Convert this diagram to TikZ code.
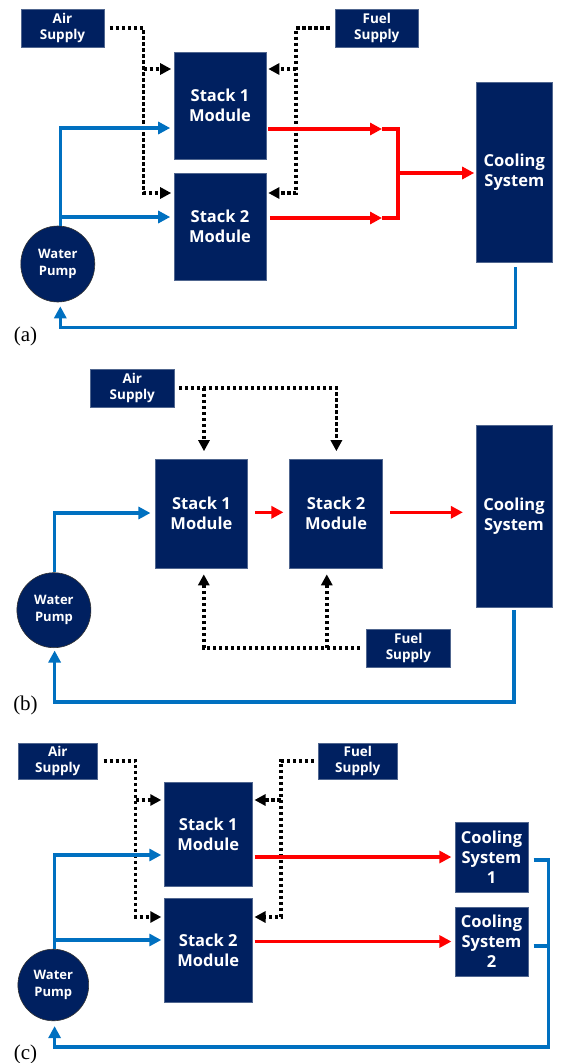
\documentclass[tikz,border=0pt]{standalone}
\usepackage{fontspec}
\setmainfont{Open Sans}
\newfontfamily\labfont{Liberation Serif}
\usetikzlibrary{arrows.meta,shapes.geometric}
\definecolor{navy}{HTML}{002060}
\definecolor{navyedge}{HTML}{50668F}
\definecolor{flowblue}{HTML}{0070C0}
\definecolor{flowred}{HTML}{FF0000}
\tikzset{
  box/.style={fill=navy, draw=navyedge, line width=0.6pt, text=white, align=center, inner sep=0pt,
    font=\bfseries\fontsize{16.5}{20}\selectfont},
  smallbox/.style={box, font=\bfseries\fontsize{13.5}{16.7}\selectfont},
  pumpnode/.style={ellipse, fill=navy, draw=black!80, line width=0.6pt, text=white, align=center, inner sep=0pt,
    font=\bfseries\fontsize{13}{17}\selectfont},
  lab/.style={font=\labfont\fontsize{21}{24}\selectfont, inner sep=0pt},
  dots/.style={black, line width=3.4pt, dash pattern=on 3.4pt off 2.6pt},
  dtip/.style={-{Triangle[length=11pt,width=11pt]}},
  bl/.style={flowblue, line width=3.6pt},
  rd/.style={flowred, line width=3.6pt},
  btip/.style={-{Triangle[length=12pt,width=12pt]}},
  rtip/.style={-{Triangle[length=12pt,width=12pt]}},
}
\begin{document}
\begin{tikzpicture}[x=1pt,y=-1pt]
\useasboundingbox (0,0) rectangle (563,1063);

% ================= (a) =================
\node[smallbox, minimum width=83pt, minimum height=38pt] (airA) at (62.5,28) {Air\\Supply};
\node[smallbox, minimum width=83pt, minimum height=38pt] (fuelA) at (376.8,28) {Fuel\\Supply};
\node[box, minimum width=92pt, minimum height=107pt] (s1A) at (220,105.5) {Stack 1\\Module};
\node[box, minimum width=92pt, minimum height=107pt] (s2A) at (220,226.5) {Stack 2\\Module};
\node[box, minimum width=76pt, minimum height=180pt] (coolA) at (514.3,172) {Cooling\\System};
\node[pumpnode, minimum width=74pt, minimum height=76pt] (pumpA) at (57.8,264) {Water\\Pump};
\node[lab] (labA) at (25.5,336.5) {(a)};

\coordinate (aA1) at (143.6,28);
\coordinate (aA2) at (143.6,193);
\coordinate (aA3) at (143.6,69);
\draw[dots, dtip, shorten <=5.5pt, shorten >=2.5pt] (airA.east) -- (aA1) -- (aA2) -- (aA2 -| s2A.west);
\draw[dots, dtip, shorten >=2.5pt] (aA3) -- (aA3 -| s1A.west);
\coordinate (fA1) at (296,28);
\coordinate (fA2) at (296,193);
\coordinate (fA3) at (296,69);
\draw[dots, dtip, shorten <=5.5pt, shorten >=2pt] (fuelA.west) -- (fA1) -- (fA2) -- (fA2 -| s2A.east);
\draw[dots, dtip, shorten >=2pt] (fA3) -- (fA3 -| s1A.east);

\coordinate (bA1) at (60.3,128);
\coordinate (bA2) at (60.3,217);
\draw[bl, btip, shorten >=3.5pt] (bA1 |- pumpA.north) -- (bA1) -- (bA1 -| s1A.west);
\draw[bl, btip, shorten >=3.5pt] (bA2) -- (bA2 -| s2A.west);

\coordinate (mA1) at (382,129);
\coordinate (mA2) at (382,218);
\coordinate (rA1) at (398,129);
\coordinate (rA2) at (398,218);
\coordinate (jA) at (398,173);
\draw[rd, rtip, shorten <=2pt] (s1A.east |- mA1) -- (mA1);
\draw[rd, rtip, shorten <=3.5pt] (s2A.east |- mA2) -- (mA2);
\draw[rd] (mA1) -- (rA1) -- (rA2) -- (mA2);
\draw[rd, rtip, shorten >=1.8pt] (jA) -- (jA -| coolA.west);

\coordinate (rtA) at (515.3,327.5);
\draw[bl, btip, shorten <=5pt, shorten >=4pt] (coolA.south -| rtA) -- (rtA) -- (rtA -| bA1) -- (bA1 |- pumpA.south);

% ================= (b) =================
\node[smallbox, minimum width=83.6pt, minimum height=38pt] (airB) at (132.3,388) {Air\\Supply};
\node[box, minimum width=92.7pt, minimum height=109pt] (s1B) at (201.4,513.5) {Stack 1\\Module};
\node[box, minimum width=92.7pt, minimum height=109pt] (s2B) at (336.1,513.5) {Stack 2\\Module};
\node[box, minimum width=76.4pt, minimum height=182pt] (coolB) at (514,516) {Cooling\\System};
\node[pumpnode, minimum width=74pt, minimum height=75pt] (pumpB) at (53.9,610.2) {Water\\Pump};
\node[smallbox, minimum width=84.4pt, minimum height=38pt] (fuelB) at (408.4,648) {Fuel\\Supply};
\node[lab] (labB) at (25.5,705.5) {(b)};

\coordinate (aB1) at (204,388);
\coordinate (aB2) at (336.4,388);
\draw[dots, dtip, shorten <=4.4pt, shorten >=7.5pt] (airB.east) -- (aB2) -- (aB2 |- s2B.north);
\draw[dots, dtip, shorten >=7.5pt] (aB1) -- (aB1 |- s1B.north);
\coordinate (fB1) at (203.8,648);
\coordinate (fB2) at (326.8,648);
\draw[dots, dtip, shorten <=6pt, shorten >=6pt] (fuelB.west) -- (fB1) -- (fB1 |- s1B.south);
\draw[dots, dtip, shorten >=6pt] (fB2) -- (fB2 |- s2B.south);

\coordinate (rB) at (0,512.3);
\draw[rd, rtip, shorten <=7pt, shorten >=6pt] (s1B.east |- rB) -- (s2B.west |- rB);
\draw[rd, rtip, shorten <=7pt, shorten >=12.6pt] (s2B.east |- rB) -- (coolB.west |- rB);

\coordinate (bB) at (54.6,513);
\draw[bl, btip, shorten >=4.3pt] (bB |- pumpB.north) -- (bB) -- (bB -| s1B.west);
\coordinate (rtB) at (514.2,702);
\draw[bl, btip, shorten <=3pt, shorten >=2.5pt] (coolB.south -| rtB) -- (rtB) -- (rtB -| bB) -- (bB |- pumpB.south);

% ================= (c) =================
\node[smallbox, minimum width=79.7pt, minimum height=36pt] (airC) at (57.8,761) {Air\\Supply};
\node[smallbox, minimum width=79.4pt, minimum height=36pt] (fuelC) at (357.8,761) {Fuel\\Supply};
\node[box, minimum width=87.6pt, minimum height=104pt] (s1C) at (208.3,834) {Stack 1\\Module};
\node[box, minimum width=87.6pt, minimum height=104pt] (s2C) at (208.3,950) {Stack 2\\Module};
\node[box, minimum width=73pt, minimum height=70pt] (cool1C) at (491.5,857) {Cooling\\System\\1};
\node[box, minimum width=73pt, minimum height=69pt] (cool2C) at (491.5,941.5) {Cooling\\System\\2};
\node[pumpnode, minimum width=70.8pt, minimum height=71.6pt] (pumpC) at (53.3,985) {Water\\Pump};
\node[lab] (labC) at (25.5,1054) {(c)};

\coordinate (aC1) at (135.7,761);
\coordinate (aC2) at (135.7,917);
\coordinate (aC3) at (135.7,800);
\draw[dots, dtip, shorten <=5.7pt, shorten >=2.9pt] (airC.east) -- (aC1) -- (aC2) -- (aC2 -| s2C.west);
\draw[dots, dtip, shorten >=2.9pt] (aC3) -- (aC3 -| s1C.west);
\coordinate (fC1) at (280.8,761);
\coordinate (fC2) at (280.8,917);
\coordinate (fC3) at (280.8,800);
\draw[dots, dtip, shorten <=3.9pt, shorten >=2.1pt] (fuelC.west) -- (fC1) -- (fC2) -- (fC2 -| s2C.east);
\draw[dots, dtip, shorten >=2.1pt] (fC3) -- (fC3 -| s1C.east);

\draw[rd, rtip, shorten <=2.1pt, shorten >=3.3pt] (s1C.east |- cool1C.west) -- (cool1C.west);
\draw[rd, rtip, shorten <=2.1pt, shorten >=3.3pt] (s2C.east |- cool2C.west) -- (cool2C.west);

\coordinate (bC1) at (54.6,855);
\coordinate (bC2) at (54.6,940);
\draw[bl, btip, shorten >=2.9pt] (bC1 |- pumpC.north) -- (bC1) -- (bC1 -| s1C.west);
\draw[bl, btip, shorten >=2.9pt] (bC2) -- (bC2 -| s2C.west);

\coordinate (cC1) at (548.3,860);
\coordinate (cC2) at (548.3,945.7);
\coordinate (cC3) at (548.3,1047);
\draw[bl, btip, shorten <=5.3pt, shorten >=5pt] (cool1C.east |- cC1) -- (cC1) -- (cC3) -- (cC3 -| bC1) -- (bC1 |- pumpC.south);
\draw[bl, shorten <=5.3pt] (cool2C.east |- cC2) -- (cC2);
\end{tikzpicture}
\end{document}
